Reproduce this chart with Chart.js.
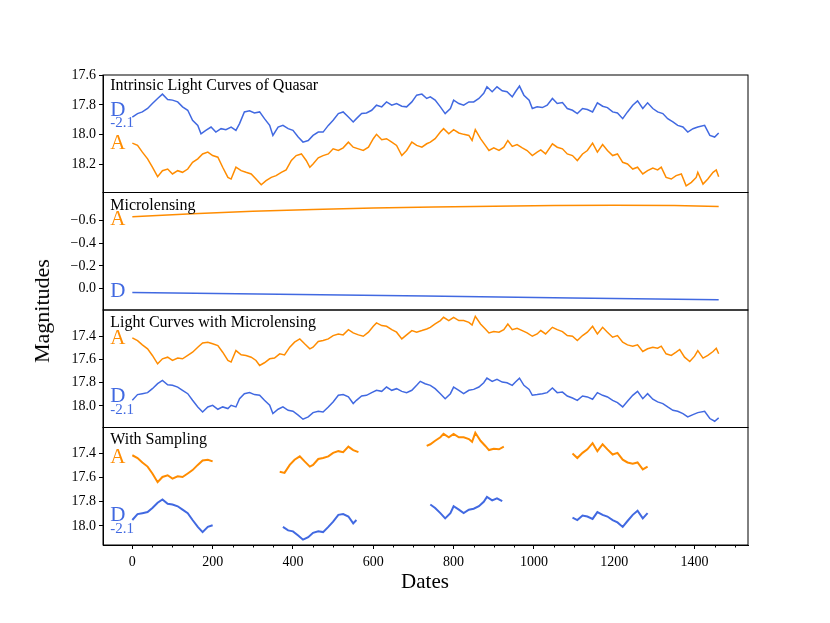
<!DOCTYPE html>
<html>
<head>
<meta charset="utf-8">
<script src="https://cdn.jsdelivr.net/npm/chart.js@4.4.1/dist/chart.umd.min.js"></script>
<style>
  body { margin: 0; background: #fff; }
  #wrap { position: relative; width: 830px; height: 623px; font-family: "Liberation Serif", serif; }
  canvas { position: absolute; left: 0; }
  .axtitle { position: absolute; color: #000; white-space: nowrap; transform: translate(-50%, -50%); }
</style>
</head>
<body>
<div id="wrap">
  <canvas id="p1"></canvas>
  <canvas id="p2"></canvas>
  <canvas id="p3"></canvas>
  <canvas id="p4"></canvas>
  <div class="axtitle" style="left:42px; top:311px; font-size:22px; transform:translate(-50%,-50%) rotate(-90deg);">Magnitudes</div>
  <div class="axtitle" style="left:425px; top:581px; font-size:21px;">Dates</div>
</div>
<script>
// [date, magnitude]
const intrinsicD = [[0,17.881],[13,17.858],[25,17.847],[38,17.824],[50,17.791],[63,17.757],[75,17.728],[88,17.764],[100,17.768],[113,17.780],[125,17.813],[138,17.836],[150,17.903],[163,17.937],[171,17.993],[183,17.970],[196,17.948],[208,17.982],[221,17.959],[233,17.966],[246,17.948],[258,17.970],[267,17.925],[279,17.847],[292,17.840],[304,17.854],[317,17.847],[329,17.892],[342,17.937],[350,18.004],[363,17.948],[375,17.937],[388,17.959],[400,17.970],[413,18.015],[425,18.049],[438,18.038],[450,18.004],[463,17.982],[475,17.982],[488,17.937],[500,17.903],[513,17.858],[525,17.847],[538,17.881],[550,17.914],[558,17.892],[571,17.858],[583,17.854],[596,17.836],[608,17.802],[621,17.813],[633,17.780],[646,17.802],[658,17.791],[671,17.809],[683,17.813],[696,17.780],[708,17.735],[721,17.728],[733,17.757],[742,17.746],[754,17.768],[767,17.813],[779,17.858],[792,17.824],[800,17.768],[813,17.791],[825,17.802],[838,17.780],[850,17.780],[863,17.757],[875,17.723],[883,17.679],[896,17.712],[908,17.679],[921,17.706],[933,17.712],[946,17.746],[954,17.712],[964,17.674],[975,17.735],[988,17.768],[996,17.824],[1008,17.813],[1021,17.818],[1033,17.802],[1046,17.757],[1058,17.791],[1071,17.784],[1083,17.824],[1096,17.836],[1108,17.858],[1121,17.824],[1133,17.831],[1146,17.847],[1158,17.786],[1171,17.809],[1183,17.818],[1196,17.847],[1208,17.854],[1221,17.892],[1233,17.847],[1246,17.802],[1258,17.773],[1271,17.824],[1283,17.786],[1296,17.824],[1308,17.847],[1321,17.858],[1333,17.892],[1346,17.914],[1358,17.937],[1371,17.948],[1383,17.982],[1396,17.959],[1408,17.948],[1425,17.937],[1438,18.004],[1450,18.015],[1460,17.988]];
const intrinsicA = [[0,18.056],[13,18.071],[25,18.116],[38,18.161],[50,18.217],[63,18.280],[75,18.240],[88,18.229],[100,18.262],[113,18.240],[125,18.251],[138,18.229],[150,18.184],[163,18.161],[175,18.128],[188,18.116],[200,18.139],[213,18.150],[225,18.217],[238,18.285],[246,18.296],[258,18.217],[271,18.240],[283,18.251],[296,18.262],[308,18.296],[321,18.334],[333,18.307],[346,18.285],[358,18.273],[371,18.251],[383,18.235],[396,18.172],[408,18.139],[421,18.128],[433,18.172],[442,18.217],[450,18.195],[463,18.154],[475,18.139],[488,18.128],[500,18.094],[513,18.105],[525,18.087],[538,18.049],[550,18.083],[563,18.094],[575,18.105],[588,18.083],[600,18.026],[608,17.997],[621,18.033],[633,18.026],[646,18.049],[658,18.071],[671,18.139],[683,18.105],[696,18.049],[708,18.071],[721,18.083],[733,18.060],[742,18.049],[754,18.026],[767,17.982],[775,17.959],[788,17.993],[800,17.966],[813,17.988],[825,17.997],[838,18.004],[846,18.038],[854,17.966],[867,18.026],[879,18.071],[888,18.105],[900,18.087],[913,18.105],[925,18.083],[935,18.038],[946,18.078],[958,18.065],[971,18.087],[983,18.105],[996,18.139],[1008,18.116],[1017,18.101],[1029,18.128],[1046,18.060],[1058,18.083],[1071,18.094],[1083,18.128],[1096,18.139],[1108,18.172],[1121,18.128],[1133,18.105],[1146,18.056],[1158,18.116],[1171,18.065],[1183,18.105],[1196,18.139],[1208,18.128],[1221,18.184],[1233,18.195],[1246,18.229],[1258,18.217],[1271,18.262],[1283,18.240],[1296,18.222],[1308,18.235],[1317,18.217],[1329,18.285],[1342,18.296],[1354,18.273],[1367,18.262],[1379,18.341],[1392,18.318],[1404,18.285],[1408,18.251],[1421,18.330],[1433,18.296],[1446,18.251],[1454,18.235],[1460,18.280]];
const microA = [[0,-0.636],[150,-0.662],[300,-0.684],[450,-0.700],[600,-0.712],[750,-0.722],[900,-0.729],[1050,-0.734],[1200,-0.737],[1350,-0.736],[1460,-0.725]];
const microD = [[0,0.035],[365,0.050],[730,0.066],[1095,0.083],[1460,0.100]];
const lensedA = [[0,17.414],[13,17.437],[25,17.474],[38,17.508],[50,17.565],[63,17.637],[75,17.594],[88,17.580],[100,17.608],[113,17.588],[125,17.594],[138,17.565],[150,17.537],[163,17.494],[175,17.457],[188,17.451],[200,17.465],[213,17.480],[225,17.537],[238,17.608],[246,17.622],[258,17.523],[271,17.560],[283,17.565],[296,17.580],[308,17.608],[317,17.651],[329,17.628],[342,17.594],[354,17.588],[367,17.551],[379,17.560],[392,17.494],[404,17.451],[417,17.423],[429,17.465],[442,17.508],[450,17.494],[463,17.445],[475,17.437],[488,17.423],[500,17.394],[513,17.380],[525,17.388],[538,17.343],[550,17.371],[563,17.388],[575,17.400],[588,17.365],[600,17.314],[608,17.285],[621,17.308],[633,17.314],[646,17.343],[658,17.365],[671,17.423],[683,17.388],[696,17.351],[708,17.365],[721,17.351],[733,17.337],[742,17.323],[754,17.294],[767,17.265],[775,17.237],[788,17.265],[800,17.237],[813,17.265],[825,17.265],[838,17.280],[846,17.303],[854,17.228],[867,17.294],[879,17.337],[888,17.371],[900,17.360],[913,17.365],[925,17.343],[935,17.294],[946,17.343],[958,17.331],[971,17.351],[983,17.371],[996,17.400],[1008,17.380],[1017,17.351],[1029,17.380],[1046,17.323],[1058,17.343],[1071,17.360],[1083,17.394],[1096,17.400],[1108,17.437],[1121,17.394],[1133,17.365],[1146,17.314],[1158,17.380],[1171,17.323],[1183,17.365],[1196,17.408],[1208,17.394],[1221,17.451],[1233,17.474],[1246,17.485],[1258,17.474],[1271,17.531],[1283,17.508],[1296,17.494],[1308,17.503],[1317,17.485],[1329,17.551],[1342,17.565],[1354,17.537],[1363,17.514],[1375,17.580],[1388,17.617],[1400,17.571],[1408,17.523],[1421,17.588],[1433,17.565],[1446,17.531],[1454,17.503],[1460,17.551]];
const lensedD = [[0,17.951],[13,17.902],[25,17.894],[38,17.885],[50,17.851],[63,17.808],[75,17.780],[88,17.817],[100,17.822],[113,17.837],[125,17.865],[138,17.894],[150,17.951],[163,18.008],[175,18.051],[188,18.008],[200,17.994],[213,18.028],[225,18.008],[238,18.022],[246,17.994],[258,18.008],[267,17.937],[279,17.894],[292,17.885],[304,17.902],[317,17.908],[329,17.951],[342,17.994],[350,18.065],[363,18.028],[375,18.008],[388,18.037],[400,18.045],[413,18.079],[425,18.114],[438,18.094],[450,18.057],[463,18.045],[475,18.051],[488,18.008],[500,17.965],[513,17.908],[525,17.902],[538,17.922],[550,17.979],[558,17.951],[571,17.914],[583,17.908],[596,17.885],[608,17.865],[621,17.874],[633,17.837],[646,17.865],[658,17.851],[671,17.874],[683,17.885],[696,17.865],[708,17.822],[717,17.788],[729,17.808],[742,17.822],[754,17.851],[767,17.894],[779,17.937],[792,17.894],[800,17.837],[813,17.865],[825,17.894],[838,17.865],[850,17.857],[863,17.837],[875,17.800],[883,17.760],[896,17.788],[908,17.771],[921,17.794],[933,17.800],[946,17.822],[954,17.794],[964,17.760],[975,17.822],[988,17.857],[996,17.908],[1008,17.902],[1021,17.894],[1033,17.885],[1046,17.845],[1058,17.885],[1071,17.880],[1083,17.914],[1096,17.931],[1108,17.951],[1121,17.914],[1133,17.922],[1146,17.942],[1158,17.885],[1171,17.908],[1183,17.922],[1196,17.951],[1208,17.971],[1221,18.008],[1233,17.959],[1246,17.908],[1258,17.874],[1271,17.937],[1283,17.894],[1296,17.942],[1308,17.965],[1321,17.979],[1333,18.008],[1346,18.037],[1358,18.045],[1371,18.065],[1383,18.094],[1396,18.074],[1408,18.057],[1425,18.045],[1438,18.108],[1450,18.131],[1460,18.102]];
// observing seasons for the sampled panel
const seasons = [[0,200],[365,565],[730,930],[1095,1295]];

const xTicks = [0,200,400,600,800,1000,1200,1400];
const xMinorStep = 50;
const magTicks1 = [17.6,17.8,18.0,18.2];
const microTicks = [-0.6,-0.4,-0.2,0.0];
const magTicks3 = [17.4,17.6,17.8,18.0];

const BLUE = '#4169E1', ORANGE = '#FF8C00';
const xMin = -73, xMax = 1533;

function pts(arr) { return arr.map(p => ({x: p[0], y: p[1]})); }
function sampled(arr) {
  const out = [];
  seasons.forEach(s => {
    arr.forEach(p => { if (p[0] >= s[0] && p[0] <= s[1]) out.push({x: p[0], y: p[1]}); });
    out.push({x: s[1] + 1, y: null});
  });
  return out;
}

Chart.defaults.font.family = '"Liberation Serif", serif';
Chart.defaults.color = '#000';

const framePlugin = {
  id: 'frame',
  afterDraw(chart) {
    const {ctx, chartArea: a} = chart;
    ctx.save();
    ctx.strokeStyle = '#000';
    ctx.lineWidth = 1;
    ctx.strokeRect(a.left, a.top, a.right - a.left, a.bottom - a.top);
    if (chart.options.plugins.frame && chart.options.plugins.frame.minor) {
      const x = chart.scales.x;
      ctx.beginPath();
      for (let v = 0; v <= 1500; v += xMinorStep) {
        if (xTicks.includes(v)) continue;
        const px = Math.round(x.getPixelForValue(v)) + 0.5;
        ctx.moveTo(px, a.bottom);
        ctx.lineTo(px, a.bottom + 2.5);
      }
      ctx.stroke();
    }
    ctx.restore();
  }
};

const labelPlugin = {
  id: 'panelLabels',
  afterDatasetsDraw(chart, args, opts) {
    const {ctx, scales: {x, y}} = chart;
    ctx.save();
    ctx.textAlign = 'left';
    ctx.textBaseline = 'middle';
    (opts.items || []).forEach(it => {
      ctx.font = it.size + 'px "Liberation Serif", serif';
      ctx.fillStyle = it.color;
      ctx.fillText(it.text, x.getPixelForValue(it.x), y.getPixelForValue(it.y));
    });
    ctx.restore();
  }
};

function fmt(v) { return (v < 0 ? '\u2212' : '') + Math.abs(v).toFixed(1); }

function makePanel(id, box, yMin, yMax, yTicks, datasets, labels, withX) {
  const canvas = document.getElementById(id);
  const cTop = Math.floor(box.top) - 14;
  const cBottom = withX ? 623 : Math.ceil(box.bottom) + 14;
  const h = cBottom - cTop;
  canvas.width = 830;
  canvas.height = h;
  canvas.style.width = '830px';
  canvas.style.height = h + 'px';
  canvas.style.top = cTop + 'px';
  const xAxisH = 40;
  return new Chart(canvas, {
    type: 'line',
    data: {datasets: datasets},
    options: {
      responsive: false,
      maintainAspectRatio: false,
      animation: false,
      events: [],
      layout: {padding: {left: 0, right: 82, top: box.top - cTop,
        bottom: withX ? (cBottom - box.bottom - xAxisH) : (cBottom - box.bottom)}},
      plugins: {legend: {display: false}, tooltip: {enabled: false},
        panelLabels: {items: labels}, frame: {minor: withX}},
      elements: {point: {radius: 0}, line: {tension: 0, borderWidth: 1.5}},
      scales: {
        x: {
          type: 'linear', min: xMin, max: xMax, display: withX,
          afterBuildTicks: s => { s.ticks = xTicks.map(v => ({value: v})); },
          afterFit: s => { s.height = withX ? xAxisH : 0; },
          grid: {drawOnChartArea: false, tickLength: 4, color: '#000'},
          border: {color: '#000'},
          ticks: {font: {size: 14}, maxRotation: 0, padding: 5, callback: v => String(v)}
        },
        y: {
          type: 'linear', reverse: true, min: yMin, max: yMax,
          afterBuildTicks: s => { s.ticks = yTicks.map(v => ({value: v})); },
          afterFit: s => { s.width = 103; },
          grid: {drawOnChartArea: false, tickLength: 4, color: '#000'},
          border: {color: '#000'},
          ticks: {font: {size: 14}, padding: 3, callback: v => fmt(v)}
        }
      }
    },
    plugins: [framePlugin, labelPlugin]
  });
}

const lx = -55;
makePanel('p1', {top: 75, bottom: 192.5}, 17.6, 18.386, magTicks1, [
  {data: pts(intrinsicD), borderColor: BLUE},
  {data: pts(intrinsicA), borderColor: ORANGE}
], [
  {text: 'Intrinsic Light Curves of Quasar', x: lx, y: 17.674, size: 16, color: '#000'},
  {text: 'D', x: lx, y: 17.838, size: 21, color: BLUE},
  {text: '-2.1', x: lx, y: 17.923, size: 15, color: BLUE},
  {text: 'A', x: lx, y: 18.061, size: 21, color: ORANGE}
], false);

makePanel('p2', {top: 192.5, bottom: 310}, -0.85, 0.19, microTicks, [
  {data: pts(microA), borderColor: ORANGE},
  {data: pts(microD), borderColor: BLUE}
], [
  {text: 'Microlensing', x: lx, y: -0.733, size: 16, color: '#000'},
  {text: 'A', x: lx, y: -0.615, size: 21, color: ORANGE},
  {text: 'D', x: lx, y: 0.028, size: 21, color: BLUE}
], false);

makePanel('p3', {top: 310, bottom: 427.5}, 17.174, 18.185, magTicks3, [
  {data: pts(lensedA), borderColor: ORANGE},
  {data: pts(lensedD), borderColor: BLUE}
], [
  {text: 'Light Curves with Microlensing', x: lx, y: 17.285, size: 16, color: '#000'},
  {text: 'A', x: lx, y: 17.423, size: 21, color: ORANGE},
  {text: 'D', x: lx, y: 17.922, size: 21, color: BLUE},
  {text: '-2.1', x: lx, y: 18.037, size: 15, color: BLUE}
], false);

makePanel('p4', {top: 427.5, bottom: 545}, 17.184, 18.158, magTicks3, [
  {data: sampled(lensedA), borderColor: ORANGE, borderWidth: 2, spanGaps: false},
  {data: sampled(lensedD), borderColor: BLUE, borderWidth: 2, spanGaps: false}
], [
  {text: 'With Sampling', x: lx, y: 17.290, size: 16, color: '#000'},
  {text: 'A', x: lx, y: 17.429, size: 21, color: ORANGE},
  {text: 'D', x: lx, y: 17.916, size: 21, color: BLUE},
  {text: '-2.1', x: lx, y: 18.027, size: 15, color: BLUE}
], true);
</script>
</body>
</html>
